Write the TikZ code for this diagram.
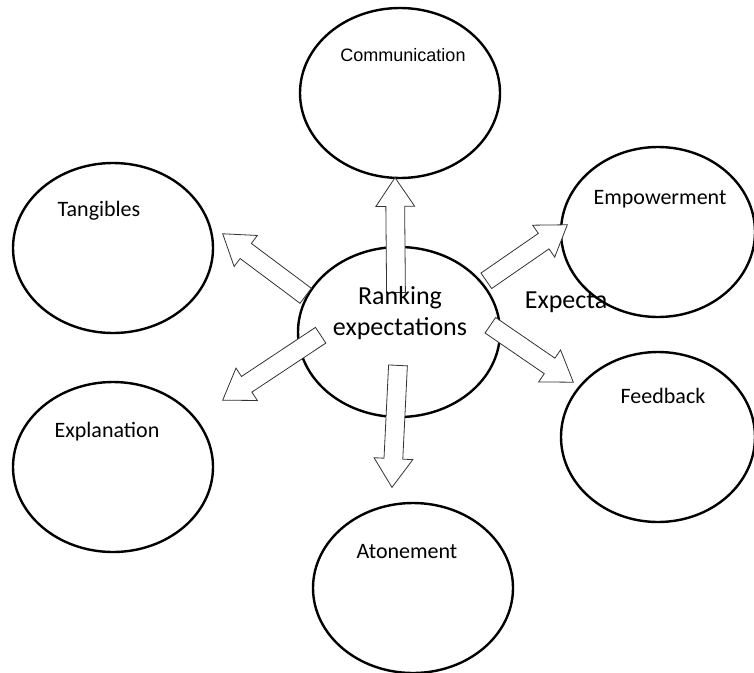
\documentclass[tikz,border=0pt]{standalone}
\usepackage{fontspec}
\setmainfont{Carlito}
\newfontfamily\arialfont{Liberation Sans}
\usepackage{tikz}
\usetikzlibrary{shapes.geometric,shapes.arrows,calc}

% block arrow from one named coordinate to another
\newcommand{\blockarrow}[2]{%
\path let \p1=($(#2)-(#1)$), \n1={atan2(\y1,\x1)}, \n2={veclen(\x1,\y1)} in
   node[blk,rotate=\n1,minimum height=\n2,anchor=tail] at (#1) {};}

\begin{document}
\begin{tikzpicture}[x=1pt,y=-1pt,
bub/.style={ellipse,draw,line width=2.4pt,minimum width=200pt,minimum height=170pt,inner sep=0pt},
blk/.style={single arrow,draw=black!80,line width=0.8pt,fill=white,inner xsep=0pt,inner ysep=9pt,
   single arrow head extend=10pt,single arrow tip angle=68,minimum width=38pt},
lbl/.style={inner sep=0pt,font=\fontsize{22}{26}\selectfont},
big/.style={inner sep=0pt,align=center,font=\fontsize{26}{31}\selectfont}]
\useasboundingbox (0,0) rectangle (754,672);
\node[bub] (comm) at (400,93) {};
\node[bub] (tang) at (113,248) {};
\node[bub,minimum width=194pt] (empo) at (658,232) {};
\node[bub,minimum width=202pt] (rank) at (399,332) {};
\node[bub] (expl) at (113,467) {};
\node[bub,minimum width=194pt] (feed) at (658,437) {};
\node[bub] (aton) at (413,588) {};
% arrow ends
\coordinate (upT) at (396,293);   \coordinate (upH) at (395,178);
\coordinate (dnT) at (398,365);   \coordinate (dnH) at (392,487);
\coordinate (tgT) at (306,296);   \coordinate (tgH) at (223,234);
\coordinate (emT) at (486,281);   \coordinate (emH) at (567,225);
\coordinate (exT) at (321,335);   \coordinate (exH) at (223,400);
\coordinate (fbT) at (490,325);   \coordinate (fbH) at (573,382);
\blockarrow{upT}{upH}
\blockarrow{dnT}{dnH}
\blockarrow{tgT}{tgH}
\blockarrow{emT}{emH}
\blockarrow{exT}{exH}
\blockarrow{fbT}{fbH}
% texts
\node[inner sep=0pt,font=\arialfont\fontsize{18}{21}\selectfont] (commT) at (403,55) {Communication};
\node[lbl] (tangT) at (99,211) {Tangibles};
\node[lbl] (empoT) at (660,199) {Empowerment};
\node[lbl] (explT) at (107,432) {Explanation};
\node[lbl] (feedT) at (663,396) {Feedback};
\node[lbl] (atonT) at (407,552) {Atonement};
\node[big] (rankT) at (400,313) {Ranking\\expectations};
\node[big] (expeT) at (566,302) {Expecta};
\end{tikzpicture}
\end{document}
